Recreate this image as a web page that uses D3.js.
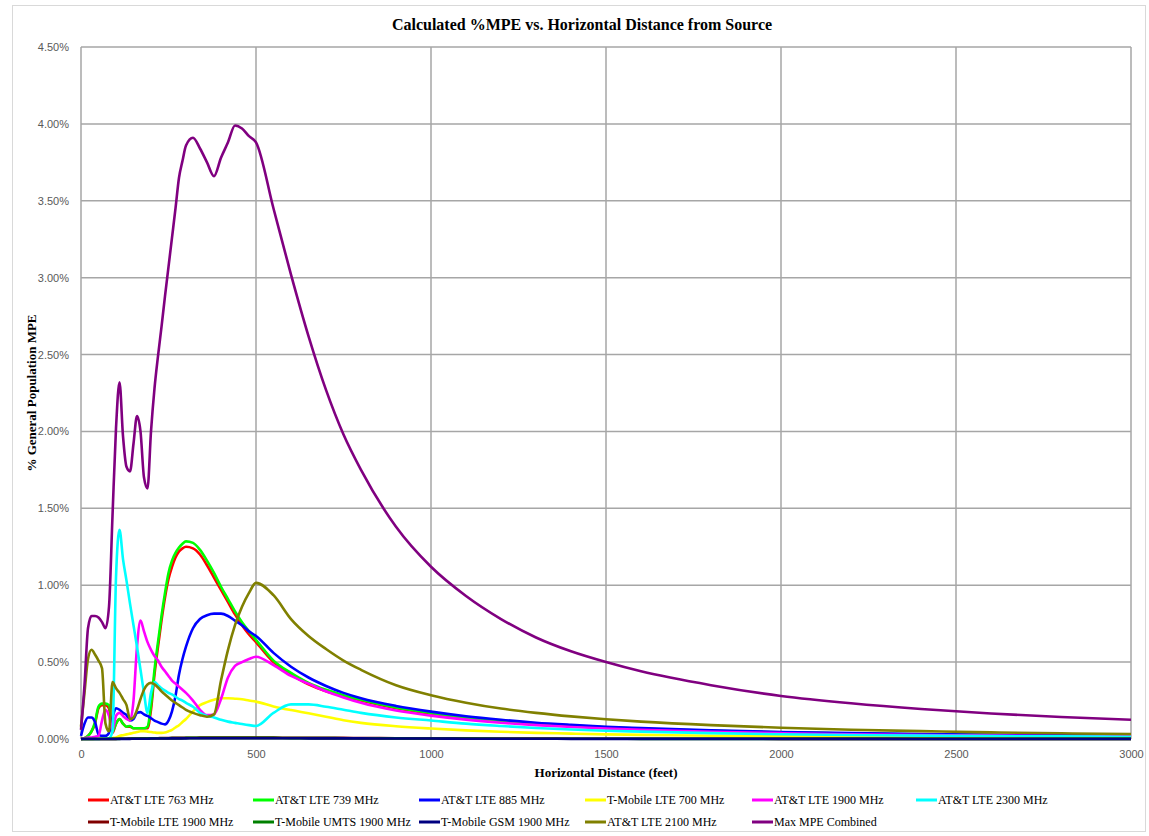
<!DOCTYPE html>
<html>
<head>
<meta charset="utf-8">
<script src="https://cdn.jsdelivr.net/npm/d3@7"></script>
<style>
  body { margin: 0; background: #fff; }
  text { font-family: "Liberation Sans", Arial, sans-serif; }
  .serif { font-family: "Liberation Serif", "DejaVu Serif", serif; }
</style>
</head>
<body>
<div id="chart"></div>
<script>
// distances in feet, shared by every series
var distances = [0,10,20,30,40,50,60,70,80,90,
  100,110,120,130,140,150,160,170,180,190,
  200,210,220,230,240,250,260,270,280,290,
  300,320,340,360,380,400,420,440,460,480,
  500,550,600,650,700,750,800,900,1000,1100,
  1200,1300,1400,1500,1600,1800,2000,2200,2400,2600,
  2800,3000];

// % MPE values
var att763 = [0,0.005,0.02,0.05,0.10,0.20,0.22,0.22,0.20,0.04,
  0.10,0.13,0.10,0.08,0.08,0.07,0.07,0.07,0.07,0.07,
  0.19,0.42,0.60,0.77,0.92,1.04,1.12,1.18,1.22,1.24,
  1.25,1.24,1.20,1.13,1.05,0.97,0.89,0.81,0.74,0.68,
  0.63,0.50,0.42,0.355,0.31,0.28,0.25,0.20,0.165,0.137,
  0.115,0.098,0.085,0.074,0.065,0.052,0.042,0.035,0.029,0.025,
  0.021,0.019];
var att739 = [0,0.005,0.02,0.05,0.11,0.21,0.23,0.23,0.22,0.05,
  0.10,0.13,0.10,0.08,0.085,0.07,0.07,0.07,0.07,0.08,
  0.22,0.45,0.63,0.80,0.95,1.08,1.16,1.21,1.245,1.27,
  1.285,1.275,1.23,1.16,1.08,0.99,0.91,0.83,0.76,0.70,
  0.645,0.51,0.43,0.365,0.32,0.285,0.255,0.205,0.17,0.14,
  0.118,0.10,0.087,0.076,0.067,0.053,0.043,0.036,0.030,0.026,
  0.022,0.019];
var att885 = [0.02,0.10,0.14,0.14,0.11,0.03,0.02,0.02,0.04,0.14,
  0.20,0.19,0.17,0.155,0.12,0.13,0.17,0.175,0.16,0.15,
  0.135,0.12,0.11,0.10,0.095,0.12,0.18,0.28,0.42,0.52,
  0.60,0.72,0.78,0.805,0.815,0.815,0.80,0.77,0.74,0.70,
  0.67,0.56,0.47,0.40,0.345,0.30,0.265,0.215,0.178,0.148,
  0.125,0.106,0.092,0.08,0.071,0.056,0.046,0.038,0.032,0.027,
  0.024,0.021];
var tmo700 = [0,0,0,0,0.002,0.002,0.003,0.004,0.005,0.007,
  0.01,0.02,0.025,0.03,0.035,0.04,0.045,0.05,0.05,0.048,
  0.045,0.042,0.04,0.04,0.042,0.05,0.06,0.075,0.09,0.11,
  0.13,0.18,0.22,0.24,0.255,0.265,0.265,0.262,0.258,0.25,
  0.243,0.212,0.188,0.167,0.145,0.122,0.105,0.083,0.068,0.056,
  0.047,0.04,0.035,0.03,0.027,0.021,0.017,0.014,0.012,0.010,
  0.009,0.008];
var att1900 = [0,0.005,0.01,0.01,0.015,0.02,0.12,0.19,0.15,0.06,
  0.15,0.17,0.15,0.13,0.12,0.25,0.60,0.77,0.70,0.63,
  0.58,0.54,0.51,0.47,0.44,0.41,0.38,0.36,0.34,0.32,
  0.30,0.25,0.19,0.155,0.16,0.26,0.40,0.475,0.50,0.52,
  0.535,0.48,0.41,0.36,0.31,0.27,0.235,0.185,0.152,0.126,
  0.106,0.09,0.078,0.068,0.06,0.047,0.038,0.031,0.026,0.022,
  0.019,0.017];
var att2300 = [0,0,0,0,0,0,0.002,0.003,0.005,0.05,
  1.05,1.36,1.17,1.03,0.88,0.74,0.60,0.45,0.30,0.17,
  0.30,0.37,0.35,0.33,0.315,0.30,0.29,0.275,0.26,0.25,
  0.235,0.21,0.17,0.15,0.14,0.125,0.113,0.105,0.097,0.09,
  0.085,0.17,0.225,0.225,0.21,0.19,0.17,0.14,0.12,0.10,
  0.085,0.072,0.062,0.054,0.048,0.038,0.031,0.026,0.022,0.019,
  0.017,0.015];
var tmoLte1900 = [0,0,0,0,0,0,0,0,0,0.001,
  0.001,0.002,0.002,0.002,0.003,0.003,0.003,0.004,0.004,0.004,
  0.005,0.005,0.005,0.006,0.006,0.006,0.007,0.007,0.007,0.008,
  0.008,0.008,0.009,0.009,0.009,0.009,0.009,0.009,0.009,0.009,
  0.009,0.009,0.008,0.008,0.007,0.007,0.006,0.005,0.004,0.004,
  0.003,0.003,0.002,0.002,0.002,0.002,0.001,0.001,0.001,0.001,
  0.001,0.001];
var tmoUmts1900 = [0,0,0,0,0,0,0,0,0.001,0.001,
  0.001,0.001,0.002,0.002,0.002,0.003,0.003,0.003,0.003,0.004,
  0.004,0.004,0.005,0.005,0.005,0.005,0.006,0.006,0.006,0.006,
  0.007,0.007,0.007,0.007,0.007,0.007,0.007,0.007,0.007,0.007,
  0.007,0.007,0.006,0.006,0.006,0.005,0.005,0.004,0.003,0.003,
  0.002,0.002,0.002,0.002,0.001,0.001,0.001,0.001,0.001,0.001,
  0.001,0.001];
var tmoGsm1900 = [0,0,0,0,0,0,0,0,0,0,
  0,0.001,0.001,0.001,0.001,0.002,0.002,0.002,0.002,0.002,
  0.003,0.003,0.003,0.003,0.003,0.004,0.004,0.004,0.004,0.004,
  0.004,0.005,0.005,0.005,0.005,0.005,0.005,0.005,0.005,0.005,
  0.005,0.005,0.005,0.004,0.004,0.004,0.004,0.003,0.003,0.002,
  0.002,0.002,0.001,0.001,0.001,0.001,0.001,0.001,0,0,
  0,0];
var att2100 = [0.08,0.30,0.52,0.58,0.55,0.51,0.46,0.10,0.05,0.37,
  0.33,0.30,0.26,0.22,0.13,0.14,0.19,0.26,0.32,0.355,
  0.365,0.355,0.335,0.31,0.29,0.27,0.25,0.235,0.22,0.205,
  0.19,0.17,0.155,0.145,0.16,0.38,0.58,0.74,0.86,0.95,
  1.015,0.935,0.78,0.67,0.585,0.51,0.45,0.35,0.285,0.236,
  0.198,0.17,0.147,0.128,0.113,0.09,0.073,0.06,0.051,0.043,
  0.037,0.033];
var maxCombined = [0.06,0.35,0.72,0.80,0.80,0.79,0.76,0.72,0.86,1.45,
  2.02,2.32,1.97,1.77,1.74,1.92,2.10,2.00,1.70,1.63,
  2.00,2.28,2.49,2.68,2.88,3.07,3.26,3.45,3.65,3.76,
  3.86,3.91,3.84,3.75,3.66,3.78,3.88,3.99,3.97,3.92,
  3.88,3.45,3.02,2.62,2.27,1.98,1.75,1.38,1.12,0.93,
  0.78,0.66,0.57,0.50,0.44,0.35,0.28,0.232,0.195,0.166,
  0.143,0.125];

var seriesNames = ["AT&T LTE 763 MHz", "AT&T LTE 739 MHz", "AT&T LTE 885 MHz",
  "T-Mobile LTE 700 MHz", "AT&T LTE 1900 MHz", "AT&T LTE 2300 MHz",
  "T-Mobile LTE 1900 MHz", "T-Mobile UMTS 1900 MHz", "T-Mobile GSM 1900 MHz",
  "AT&T LTE 2100 MHz", "Max MPE Combined"];
var seriesValues = [att763, att739, att885, tmo700, att1900, att2300,
  tmoLte1900, tmoUmts1900, tmoGsm1900, att2100, maxCombined];
var seriesColors = ["#ff0000", "#00ff00", "#0000ff", "#ffff00", "#ff00ff", "#00ffff",
  "#800000", "#008000", "#000080", "#808000", "#800080"];

var xTicks = [0, 500, 1000, 1500, 2000, 2500, 3000];
var yTicks = [0, 0.5, 1, 1.5, 2, 2.5, 3, 3.5, 4, 4.5];

(function() {
  var width = 1149, height = 836;
  var plotLeft = 81, plotRight = 1131, plotTop = 47, plotBottom = 739;

  var svg = d3.select("#chart").append("svg")
    .attr("width", width)
    .attr("height", height);

  // faint outer frame
  svg.append("rect")
    .attr("x", 12.5).attr("y", 5.5)
    .attr("width", 1133).attr("height", 826)
    .attr("fill", "none").attr("stroke", "#d9d9d9");

  var x = d3.scaleLinear().domain([0, 3000]).range([plotLeft, plotRight]);
  var y = d3.scaleLinear().domain([0, 4.5]).range([plotBottom, plotTop]);

  // grid
  svg.append("g")
    .selectAll("line")
    .data(yTicks)
    .enter().append("line")
    .attr("x1", plotLeft).attr("x2", plotRight)
    .attr("y1", function(d) { return y(d) }).attr("y2", function(d) { return y(d) })
    .attr("stroke", "#a6a6a6").attr("stroke-width", 1.5);
  svg.append("g")
    .selectAll("line")
    .data(xTicks)
    .enter().append("line")
    .attr("y1", plotTop).attr("y2", plotBottom)
    .attr("x1", function(d) { return x(d) }).attr("x2", function(d) { return x(d) })
    .attr("stroke", "#a6a6a6").attr("stroke-width", 1.5);

  // axes (labels only)
  var yAxis = svg.append("g")
    .attr("transform", "translate(" + (plotLeft - 9) + ",0)")
    .call(d3.axisLeft(y).tickValues(yTicks).tickSize(0).tickFormat(function(d) { return d.toFixed(2) + "%" }));
  yAxis.select(".domain").remove();
  yAxis.selectAll("text").attr("fill", "#595959").style("font-size", "11px");

  var xAxis = svg.append("g")
    .attr("transform", "translate(0," + (plotBottom + 8) + ")")
    .call(d3.axisBottom(x).tickValues(xTicks).tickSize(0).tickFormat(d3.format("d")));
  xAxis.select(".domain").remove();
  xAxis.selectAll("text").attr("fill", "#595959").style("font-size", "11px");

  // lines
  var line = d3.line()
    .x(function(d) { return x(d[0]) })
    .y(function(d) { return y(d[1]) })
    .curve(d3.curveMonotoneX);

  seriesValues.forEach(function(vals, i) {
    svg.append("path")
      .datum(distances.map(function(dd, j) { return [dd, vals[j]] }))
      .attr("fill", "none")
      .attr("stroke", seriesColors[i])
      .attr("stroke-width", 2.6)
      .attr("stroke-linejoin", "round")
      .attr("d", line);
  });

  // titles
  svg.append("text").attr("class", "serif")
    .attr("x", 582).attr("y", 30)
    .attr("text-anchor", "middle")
    .style("font-size", "16px").style("font-weight", "bold")
    .text("Calculated %MPE vs. Horizontal Distance from Source");

  svg.append("text").attr("class", "serif")
    .attr("x", 606).attr("y", 777)
    .attr("text-anchor", "middle")
    .style("font-size", "13px").style("font-weight", "bold")
    .text("Horizontal Distance (feet)");

  svg.append("text").attr("class", "serif")
    .attr("transform", "translate(36,393) rotate(-90)")
    .attr("text-anchor", "middle")
    .style("font-size", "13px").style("font-weight", "bold")
    .text("% General Population MPE");

  // legend
  var legendX = [88, 253, 419, 585, 752, 916];
  var legendY = [800, 822];
  var legend = svg.append("g")
    .selectAll("g")
    .data(seriesNames)
    .enter().append("g")
    .attr("transform", function(d, i) {
      return "translate(" + legendX[i % 6] + "," + legendY[Math.floor(i / 6)] + ")"
    });
  legend.append("line")
    .attr("x1", 0).attr("x2", 21).attr("y1", 0).attr("y2", 0)
    .attr("stroke", function(d, i) { return seriesColors[i] })
    .attr("stroke-width", 3);
  legend.append("text").attr("class", "serif")
    .attr("x", 22).attr("y", 4)
    .style("font-size", "12px")
    .text(function(d) { return d });
})();
</script>
</body>
</html>
